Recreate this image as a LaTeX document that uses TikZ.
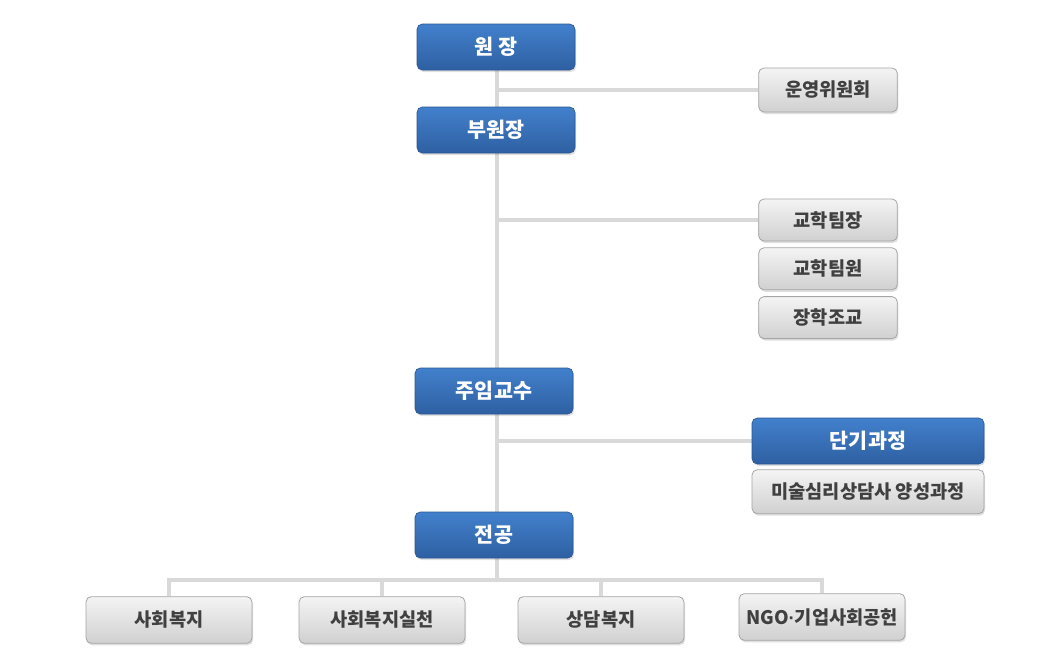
\documentclass[tikz,border=0pt]{standalone}
\usepackage{fontspec}
\setmainfont{Noto Sans CJK KR}
\newfontfamily\latinfont{Liberation Sans}
\usepackage{xcolor}
\definecolor{orgblueA}{RGB}{66,128,204}
\definecolor{orgblueB}{RGB}{46,96,162}
\definecolor{orgblueline}{RGB}{40,86,148}
\definecolor{orggrayA}{RGB}{244,244,244}
\definecolor{orggrayB}{RGB}{208,208,208}
\definecolor{orggrayline}{RGB}{165,165,165}
\definecolor{orgtext}{RGB}{64,64,64}
\definecolor{orgconn}{RGB}{217,217,217}
\usepackage{tikz}
\usetikzlibrary{positioning, shadows}
\pgfdeclarelayer{bg}
\pgfsetlayers{bg,main}
\tikzset{
  bluebox/.style={
    rectangle, rounded corners=4pt, draw=orgblueline, line width=0.5pt,
    top color=orgblueA, bottom color=orgblueB,
    minimum width=118.5pt, minimum height=34.5pt,
    text=white, font=\fontsize{15.5}{17}\selectfont\bfseries,
    drop shadow={opacity=0.25, shadow xshift=0.8pt, shadow yshift=-1.5pt}
  },
  graybox/.style={
    rectangle, rounded corners=4pt, draw=orggrayline, line width=0.6pt,
    top color=orggrayA, bottom color=orggrayB,
    minimum width=104pt, minimum height=31.5pt,
    text=orgtext, font=\fontsize{14}{16}\selectfont\bfseries,
    drop shadow={opacity=0.25, shadow xshift=0.8pt, shadow yshift=-1.5pt}
  },
  conn/.style={line width=3pt, color=orgconn},
}

\begin{document}
\begin{tikzpicture}[x=0.75pt, y=-0.75pt]
  \useasboundingbox (0,0) rectangle (1047,653);

  % main column
  \node (won)    [bluebox] at (496,47)  {원 장};
  \node (buwon)  [bluebox] at (496,130) {부원장};
  \node (juim)   [bluebox] at (494,391) {주임교수};
  \node (jeon)   [bluebox] at (494,535) {전공};

  % side branches
  \node (unyeong) [graybox, minimum height=33pt] at (828,90) {운영위원회};
  \node (gyojang) [graybox] at (828,220) {교학팀장};
  \node (gyowon)  [graybox, below=4.5pt of gyojang] {교학팀원};
  \node (janghak) [graybox, below=4.5pt of gyowon]  {장학조교};
  \node (dangi)   [bluebox, minimum width=174pt] at (868,441) {단기과정};
  \node (misul)   [graybox, minimum width=174pt, minimum height=33pt, below=3.75pt of dangi] {미술심리상담사 양성과정};

  % majors
  \node (bokji)   [graybox, minimum width=124.5pt, minimum height=35pt] at (169,620) {사회복지};
  \node (silcheon)[graybox, minimum width=124.5pt, minimum height=35pt] at (382,620) {사회복지실천};
  \node (sangdam) [graybox, minimum width=124.5pt, minimum height=35pt] at (601,620) {상담복지};
  \node (ngo)     [graybox, minimum width=124.5pt, minimum height=35pt] at (822,617) {NGO{\latinfont\bfseries ·}기업사회공헌};

  \coordinate (trunk) at (497,47);
  \coordinate (bus)   at (497,580);

  \begin{pgfonlayer}{bg}
    \draw [conn] (trunk) -- (bus);
    \draw [conn] (unyeong.west) -- (unyeong.west -| trunk);
    \draw [conn] (gyojang.west) -- (gyojang.west -| trunk);
    \draw [conn] (dangi.west)   -- (dangi.west -| trunk);
    \foreach \m in {bokji, silcheon, sangdam, ngo}
      \draw [conn] (bus) -| (\m.north);
  \end{pgfonlayer}
\end{tikzpicture}
\end{document}
